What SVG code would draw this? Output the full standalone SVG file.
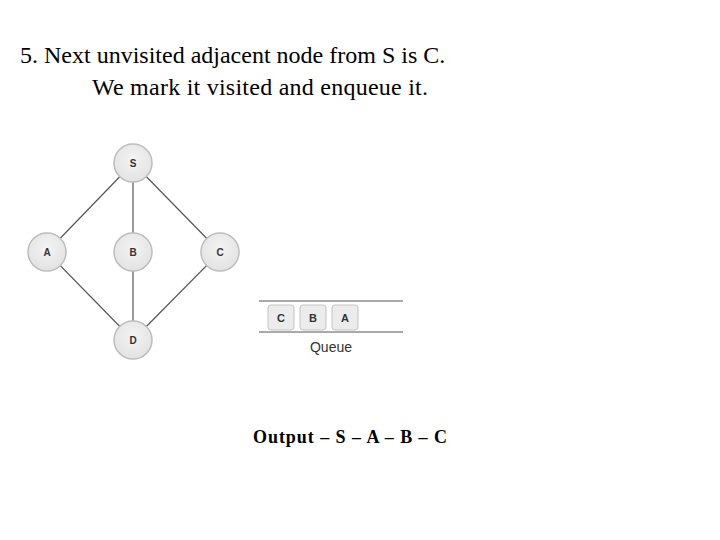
<svg xmlns="http://www.w3.org/2000/svg" width="720" height="540" viewBox="0 0 720 540">
<defs>
<radialGradient id="ng" cx="50%" cy="40%" r="60%">
<stop offset="0%" stop-color="#f4f4f4"/>
<stop offset="100%" stop-color="#e2e2e2"/>
</radialGradient>
<style>
.node circle{fill:url(#ng);stroke:#bdbdbd;stroke-width:1.5}
.node text{font-family:"Liberation Sans",Arial,sans-serif;font-size:10px;font-weight:bold;fill:#333;text-anchor:middle}
.edge{stroke:#555;stroke-width:1.2}
.qbox{fill:#ececec;stroke:#c4c4c4;stroke-width:1}
.qt{font-family:"Liberation Sans",Arial,sans-serif;font-size:11px;font-weight:bold;fill:#333;text-anchor:middle}
.title{font-family:"Liberation Serif","Times New Roman",serif;font-size:24px;fill:#000}
</style>
</defs>
<rect width="720" height="540" fill="#fff"/>
<text class="title" x="20" y="63">5. Next unvisited adjacent node from S is C.</text>
<text class="title" x="92" y="95" textLength="336" lengthAdjust="spacing">We mark it visited and enqueue it.</text>
<g id="connectors">
<line class="edge" x1="133" y1="163" x2="47" y2="252"/>
<line class="edge" x1="133" y1="163" x2="133" y2="252"/>
<line class="edge" x1="133" y1="163" x2="220" y2="252"/>
<line class="edge" x1="47" y1="252" x2="133" y2="340"/>
<line class="edge" x1="133" y1="252" x2="133" y2="340"/>
<line class="edge" x1="220" y1="252" x2="133" y2="340"/>
</g>
<g id="node-S" class="node"><circle cx="133" cy="163" r="19"/><text x="133" y="167">S</text></g>
<g id="node-A" class="node"><circle cx="47" cy="252" r="19"/><text x="47" y="256">A</text></g>
<g id="node-B" class="node"><circle cx="133" cy="252" r="19"/><text x="133" y="256">B</text></g>
<g id="node-C" class="node"><circle cx="220" cy="252" r="19"/><text x="220" y="256">C</text></g>
<g id="node-D" class="node"><circle cx="133" cy="340" r="19"/><text x="133" y="344">D</text></g>
<g id="queue">
<line x1="259" y1="301" x2="403" y2="301" stroke="#555" stroke-width="1"/>
<line x1="259" y1="332" x2="403" y2="332" stroke="#555" stroke-width="1"/>
<rect class="qbox" x="268" y="305" width="26" height="25" rx="3"/>
<rect class="qbox" x="300" y="305" width="26" height="25" rx="3"/>
<rect class="qbox" x="332" y="305" width="26" height="25" rx="3"/>
<text class="qt" x="281" y="322">C</text>
<text class="qt" x="313" y="322">B</text>
<text class="qt" x="345" y="322">A</text>
<text x="331" y="352" font-family="'Liberation Sans',Arial,sans-serif" font-size="14" fill="#333" text-anchor="middle">Queue</text>
</g>
<text x="253" y="443" font-family="'Liberation Serif','Times New Roman',serif" font-size="18" font-weight="bold" fill="#000" textLength="194" lengthAdjust="spacing">Output – S – A – B – C</text>
</svg>
